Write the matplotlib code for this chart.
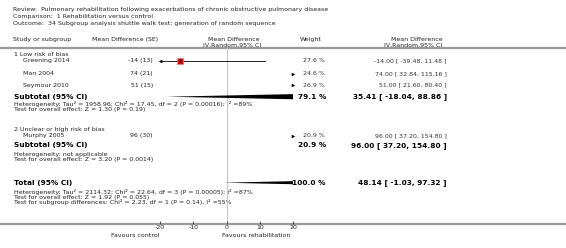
import numpy as np
import matplotlib
matplotlib.use("Agg")
import matplotlib.pyplot as plt

# data
studies = ["Greening 2014", "Man 2004", "Seymour 2010", "Murphy 2005"]
md_se = ["-14 (13)", "74 (21)", "51 (15)", "96 (30)"]
means = [-14.0, 74.0, 51.0, 96.0]
lows = [-39.48, 32.84, 21.60, 37.20]
highs = [11.48, 115.16, 80.40, 154.80]
weights = ["27.6 %", "24.6 %", "26.9 %", "20.9 %"]
ci_text = ["-14.00 [ -39.48, 11.48 ]", "74.00 [ 32.84, 115.16 ]",
           "51.00 [ 21.60, 80.40 ]", "96.00 [ 37.20, 154.80 ]"]
groups = ["1 Low risk of bias", "2 Unclear or high risk of bias"]

sub_means = [35.41, 96.00]
sub_lows = [-18.04, 37.20]
sub_highs = [88.86, 154.80]
sub_weights = ["79.1 %", "20.9 %"]
sub_ci = ["35.41 [ -18.04, 88.86 ]", "96.00 [ 37.20, 154.80 ]"]
sub_het = ["Heterogeneity: Tau\u00b2 = 1958.96; Chi\u00b2 = 17.45, df = 2 (P = 0.00016); I\u00b2 =89%",
           "Heterogeneity: not applicable"]
sub_test = ["Test for overall effect: Z = 1.30 (P = 0.19)",
            "Test for overall effect: Z = 3.20 (P = 0.0014)"]

tot_mean, tot_low, tot_high = 48.14, -1.03, 97.32
tot_text = ["Heterogeneity: Tau\u00b2 = 2114.32; Chi\u00b2 = 22.64, df = 3 (P = 0.00005); I\u00b2 =87%",
            "Test for overall effect: Z = 1.92 (P = 0.055)",
            "Test for subgroup differences: Chi\u00b2 = 2.23, df = 1 (P = 0.14), I\u00b2 =55%"]

xticks = [-20, -10, 0, 10, 20]
XMIN, XMAX = -20, 20

# layout (pixel rows)
W, H = 566, 248
study_y = [60.7, 73.7, 85.3, 135.7]
group_y = [55.0, 130.0]
sub_y = [96.7, 145.3]
het_y = [103.7, 154.7]
test_y = [109.3, 160.0]
tot_y = 182.7
tot_lines_y = [191.7, 197.0, 201.7]
axis_y = 224.3

fig = plt.figure(figsize=(W / 100, H / 100), dpi=100)
fig.patch.set_facecolor("white")

# text layer in pixel coords
tx = fig.add_axes([0, 0, 1, 1])
tx.set_xlim(0, W)
tx.set_ylim(H, 0)
tx.axis("off")

fs = 4.5
fsb = 5.3
col = "#222222"

tx.text(13, 9.5, "Review:  Pulmonary rehabilitation following exacerbations of chronic obstructive pulmonary disease",
        fontsize=fs, va="center", color=col)
tx.text(13, 16.3, "Comparison:  1 Rehabilitation versus control", fontsize=fs, va="center", color=col)
tx.text(13, 23.6, "Outcome:  34 Subgroup analysis shuttle walk test: generation of random sequence",
        fontsize=fs, va="center", color=col)

tx.text(13, 39.3, "Study or subgroup", fontsize=fs, va="center", color=col)
tx.text(92, 39.3, "Mean Difference (SE)", fontsize=fs, va="center", color=col)
tx.text(234, 39.3, "Mean Difference", fontsize=fs, va="center", ha="center", color=col)
tx.text(232, 45.0, "IV,Random,95% CI", fontsize=fs, va="center", ha="center", color=col)
tx.text(311, 39.3, "Weight", fontsize=fs, va="center", ha="center", color=col)
tx.text(417, 39.3, "Mean Difference", fontsize=fs, va="center", ha="center", color=col)
tx.text(413, 45.0, "IV,Random,95% CI", fontsize=fs, va="center", ha="center", color=col)

tx.plot([0, W], [48.3, 48.3], color="#9a9a9a", lw=1.6, solid_capstyle="butt")
tx.plot([0, W], [axis_y, axis_y], color="#9a9a9a", lw=1.6, solid_capstyle="butt")

for i, g in enumerate(groups):
    tx.text(14, group_y[i], g, fontsize=fs, va="center", color=col)

for i, s in enumerate(studies):
    y = study_y[i]
    tx.text(23, y, s, fontsize=fs, va="center", color=col)
    tx.text(153, y, md_se[i], fontsize=fs, va="center", ha="right", color=col)
    tx.text(325, y, weights[i], fontsize=fs, va="center", ha="right", color="#333333")
    tx.text(447, y, ci_text[i], fontsize=fs, va="center", ha="right", color="#333333")

for i in range(2):
    tx.text(14, sub_y[i], "Subtotal (95% CI)", fontsize=fsb, va="center", fontweight="bold", color="black")
    tx.text(326, sub_y[i], sub_weights[i], fontsize=fsb, va="center", ha="right", fontweight="bold", color="black")
    tx.text(447, sub_y[i], sub_ci[i], fontsize=fsb, va="center", ha="right", fontweight="bold", color="black")
    tx.text(14, het_y[i], sub_het[i], fontsize=fs, va="center", color=col)
    tx.text(14, test_y[i], sub_test[i], fontsize=fs, va="center", color=col)

tx.text(14, tot_y, "Total (95% CI)", fontsize=fsb, va="center", fontweight="bold", color="black")
tx.text(326, tot_y, "100.0 %", fontsize=fsb, va="center", ha="right", fontweight="bold", color="black")
tx.text(447, tot_y, "48.14 [ -1.03, 97.32 ]", fontsize=fsb, va="center", ha="right", fontweight="bold", color="black")
for t, y in zip(tot_text, tot_lines_y):
    tx.text(14, y, t, fontsize=fs, va="center", color=col)

tx.text(159, 235.7, "Favours control", fontsize=fs, va="center", ha="right", color=col)
tx.text(222, 235.7, "Favours rehabilitation", fontsize=fs, va="center", ha="left", color=col)

# forest axes: x in effect units, y in pixel rows
x0, x1 = 160.0, 293.3
ax = fig.add_axes([x0 / W, (H - axis_y) / H, (x1 - x0) / W, (axis_y - 48.3) / H])
ax.set_xlim(XMIN, XMAX)
ax.set_ylim(axis_y, 48.3)
ax.patch.set_alpha(0)
for sp in ax.spines.values():
    sp.set_visible(False)
ax.set_yticks([])
ax.set_xticks(xticks)
ax.set_xticklabels([str(t) for t in xticks])
ax.tick_params(axis="x", direction="in", length=2.5, width=0.6, color="#333333",
               labelsize=fs, pad=0.5, labelcolor=col)

ax.axvline(0, color="#c8c8c8", lw=0.9, zorder=0)

arrow_ms = 2.6
for i in range(len(studies)):
    y = study_y[i]
    lo, hi, m = lows[i], highs[i], means[i]
    if hi < XMIN or lo > XMAX:
        ax.plot([XMAX if lo > XMAX else XMIN], [y], marker=">" if lo > XMAX else "<",
                ms=arrow_ms, color="black", mew=0, clip_on=False)
        continue
    a, b = max(lo, XMIN), min(hi, XMAX)
    ax.plot([a, b], [y, y], color="black", lw=0.6)
    ax.plot([m], [y], marker="s", ms=4.5, mfc="#e8000b", mec="#f08080", mew=0.6)
    ax.plot([m, m], [y - 1.6, y + 1.6], color="black", lw=0.5)
    if lo < XMIN:
        ax.plot([XMIN], [y], marker="<", ms=arrow_ms, color="black", mew=0, clip_on=False)
    if hi > XMAX:
        ax.plot([XMAX], [y], marker=">", ms=arrow_ms, color="black", mew=0, clip_on=False)

dh = 3.6
def diamond(m, lo, hi, y):
    ax.fill([lo, m, hi, m], [y, y - dh, y, y + dh], color="black", lw=0)

for i in range(2):
    diamond(sub_means[i], sub_lows[i], sub_highs[i], sub_y[i])
diamond(tot_mean, tot_low, tot_high, tot_y)

fig.savefig("out.png", dpi=100, facecolor="white")
